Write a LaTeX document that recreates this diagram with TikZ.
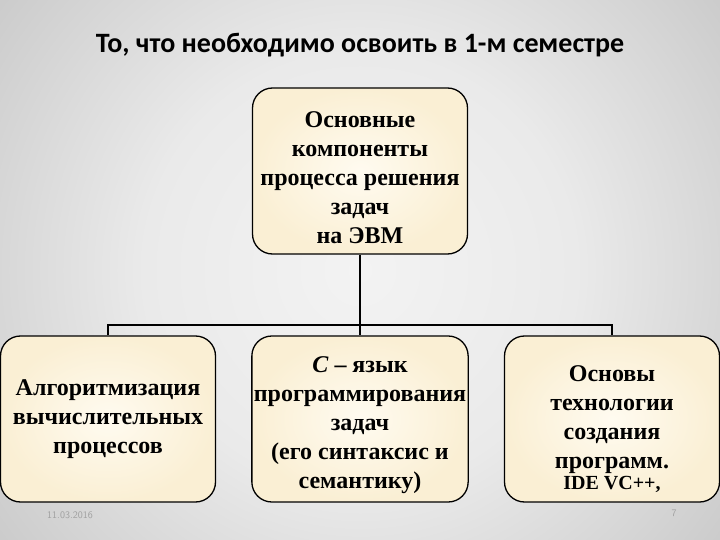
\documentclass[tikz,border=0pt]{standalone}
\usepackage{fontspec}
\setmainfont{Liberation Serif}
\newfontfamily\titlefont{Carlito}
\usepackage{xcolor}
\definecolor{slidebgin}{RGB}{243,243,243}
\definecolor{slidebglight}{RGB}{234,234,234}
\definecolor{slidebgmid}{RGB}{192,192,192}
\definecolor{slidebgdark}{RGB}{155,155,155}
\definecolor{slidebgout}{RGB}{138,138,138}
\definecolor{boxin}{RGB}{255,251,240}
\definecolor{boxout}{RGB}{250,239,212}
\definecolor{footgray}{RGB}{160,160,160}
\usetikzlibrary{positioning,calc}
\pgfdeclareradialshading{slidebg}{\pgfpoint{0bp}{0bp}}{color(0bp)=(slidebgin); color(12bp)=(slidebglight); color(30bp)=(slidebgmid); color(40bp)=(slidebgdark); color(50bp)=(slidebgout); color(71bp)=(slidebgout)}
\newcommand{\lowfirst}[1]{\rule{0pt}{#1}}

\begin{document}
\begin{tikzpicture}[
  x=1pt,y=-1pt,
  block/.style={draw,line width=1.3pt,rounded corners=20pt,shade,inner color=boxin,outer color=boxout,
    minimum width=215pt,minimum height=166pt,inner sep=2pt,align=center,
    font=\fontsize{24}{29}\selectfont\bfseries},
  link/.style={line width=2pt}
]
  \begin{scope}
    \clip (0,0) rectangle (720,540);
    \shade[shading=slidebg] (-90,-180) rectangle (810,720);
  \end{scope}
  \useasboundingbox (0,0) rectangle (720,540);
  \node[font=\titlefont\fontsize{28}{32}\selectfont\bfseries] (title) at (360,45) {То, что необходимо освоить в 1-м семестре};
  \node[block] (top) at (360,171) {\lowfirst{30pt}Основные\\компоненты\\процесса решения\\задач\\на ЭВМ};
  \node[block] (alg) at (108,419) {Алгоритмизация\\вычислительных\\процессов};
  \node[block] (lang) at (360,419) {\lowfirst{28pt}\textit{C} – язык\\программирования\\задач\\(его синтаксис и\\семантику)};
  \node[block] (tech) at (612,419) {\lowfirst{36pt}Основы\\технологии\\создания\\программ.\\[-8pt]{\fontsize{20}{21}\selectfont IDE VC++,}};
  \coordinate (bus) at (360,325);
  \draw[link] (top.south) -- (lang.north);
  \draw[link] (alg.north) |- (bus) -| (tech.north);
  \node[text=footgray,font=\fontsize{10}{12}\selectfont\sffamily] (date) at (70,515) {11.03.2016};
  \node[text=footgray,font=\fontsize{10}{12}\selectfont\sffamily] (page) at (674,513) {7};
\end{tikzpicture}
\end{document}
